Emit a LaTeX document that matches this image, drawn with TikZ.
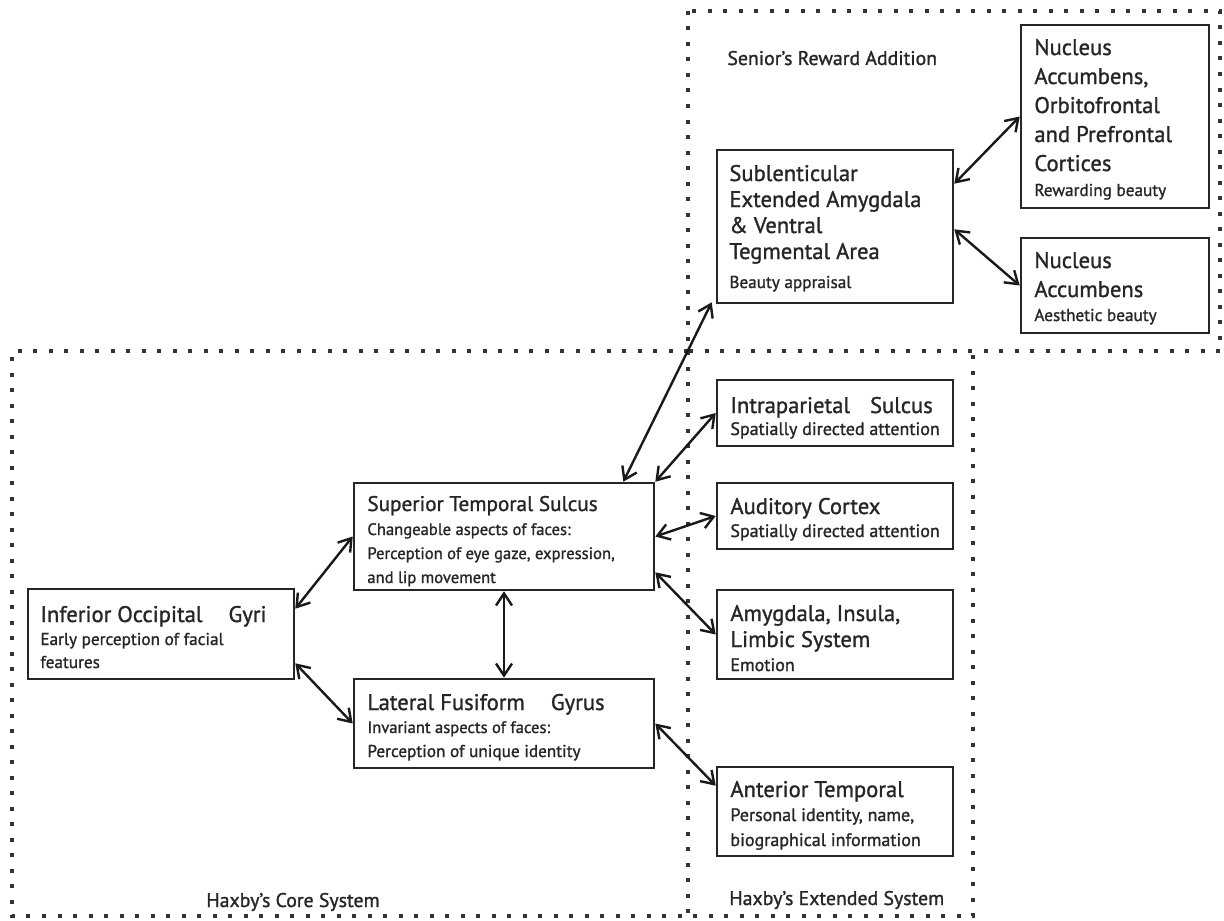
\documentclass[tikz,border=0pt]{standalone}
\usepackage{fontspec}
\setmainfont{PT Sans}[FakeBold=1.2]
\usetikzlibrary{arrows.meta,fit,calc}
\begin{document}
\begin{tikzpicture}[x=0.5pt,y=-0.5pt,
  box/.style={draw=black!85, line width=1.3pt, inner sep=0pt},
  ttltxt/.style={anchor=base west, inner sep=0pt, text=black!85, font=\fontsize{11.3}{13}\selectfont},
  subtxt/.style={anchor=base west, inner sep=0pt, text=black!85, font=\fontsize{8.6}{10}\selectfont},
  lbltxt/.style={anchor=base west, inner sep=0pt, text=black!85, font=\fontsize{9.9}{11}\selectfont},
  dotline/.style={line width=2pt, dash pattern=on 2pt off 5.75pt, black!80},
  link/.style={line width=1.2pt, black!90, {Straight Barb[length=6pt,width=8pt]}-{Straight Barb[length=6pt,width=8pt]}}
]
\useasboundingbox (0,0) rectangle (1224,920);

% dotted regions
\draw[dotline] (688,11) rectangle (1220,351);
\draw[dotline] (688,351) -- (12,351) -- (12,916) -- (973,916) -- (973,351);
\draw[dotline] (688,351) -- (688,916);

% region labels
\node[lbltxt] (lsen) at (727,65) {Senior’s Reward Addition};
\node[lbltxt] (lcore) at (206,907) {Haxby’s Core System};
\node[lbltxt] (lext) at (729,905) {Haxby’s Extended System};

% boxes
\node[box, fit={(28,589) (294,679)}] (iog) {};
\node[box, fit={(354,483) (654,590)}] (sts) {};
\node[box, fit={(354,679) (654,768)}] (lfg) {};
\node[box, fit={(717,380) (953,446)}] (ips) {};
\node[box, fit={(717,483) (953,549)}] (aud) {};
\node[box, fit={(717,590) (953,679)}] (amy) {};
\node[box, fit={(717,767) (953,856)}] (ant) {};
\node[box, fit={(717,150) (953,303)}] (sla) {};
\node[box, fit={(1021,25) (1209,208)}] (nof) {};
\node[box, fit={(1021,238) (1209,333)}] (nac) {};

% texts
\node[ttltxt] (iog1) at (40,622) {Inferior Occipital\hspace{10pt} Gyri};
\node[subtxt] (iog2) at (40,645) {Early perception of facial};
\node[subtxt] (iog3) at (40,668) {features};

\node[ttltxt, font=\fontsize{10.6}{13}\selectfont] (sts1) at (367,511) {Superior Temporal Sulcus};
\node[subtxt, font=\fontsize{8.3}{10}\selectfont] (sts2) at (367,535) {Changeable aspects of faces:};
\node[subtxt, font=\fontsize{8.3}{10}\selectfont] (sts3) at (367,559) {Perception of eye gaze, expression,};
\node[subtxt, font=\fontsize{8.3}{10}\selectfont] (sts4) at (367,583) {and lip movement};

\node[ttltxt] (lfg1) at (367,710) {Lateral Fusiform\hspace{10pt} Gyrus};
\node[subtxt, font=\fontsize{8.3}{10}\selectfont] (lfg2) at (367,733) {Invariant aspects of faces:};
\node[subtxt] (lfg3) at (367,757) {Perception of unique identity};

\node[ttltxt] (ips1) at (730,413) {Intraparietal\hspace{7pt} Sulcus};
\node[subtxt, font=\fontsize{9}{10}\selectfont] (ips2) at (730,435) {Spatially directed attention};

\node[ttltxt] (aud1) at (730,514) {Auditory Cortex};
\node[subtxt, font=\fontsize{9}{10}\selectfont] (aud2) at (730,537) {Spatially directed attention};

\node[ttltxt] (amy1) at (730,621) {Amygdala, Insula,};
\node[ttltxt] (amy2) at (730,647) {Limbic System};
\node[subtxt, font=\fontsize{9}{10}\selectfont] (amy3) at (730,671) {Emotion};

\node[ttltxt] (ant1) at (730,797) {Anterior Temporal};
\node[subtxt, font=\fontsize{9}{10}\selectfont] (ant2) at (730,821) {Personal identity, name,};
\node[subtxt, font=\fontsize{9}{10}\selectfont] (ant3) at (730,846) {biographical information};

\node[ttltxt] (sla1) at (729,181) {Sublenticular};
\node[ttltxt] (sla2) at (729,207) {Extended Amygdala};
\node[ttltxt] (sla3) at (729,233) {\& Ventral};
\node[ttltxt] (sla4) at (729,259) {Tegmental Area};
\node[subtxt] (sla5) at (729,288) {Beauty appraisal};

\node[ttltxt] (nof1) at (1034,55) {Nucleus};
\node[ttltxt] (nof2) at (1034,84) {Accumbens,};
\node[ttltxt] (nof3) at (1034,113) {Orbitofrontal};
\node[ttltxt] (nof4) at (1034,142) {and Prefrontal};
\node[ttltxt] (nof5) at (1034,171) {Cortices};
\node[subtxt] (nof6) at (1034,196) {Rewarding beauty};

\node[ttltxt] (nac1) at (1034,268) {Nucleus};
\node[ttltxt] (nac2) at (1034,297) {Accumbens};
\node[subtxt] (nac3) at (1034,321) {Aesthetic beauty};

% connectors
\draw[link] ($(iog.north east)+(0,21)$) -- (sts.west);
\draw[link] ($(iog.south east)+(0,-17)$) -- (lfg.west);
\draw[link] (sts.south) -- (lfg.north);
\draw[link] ($(sts.north east)+(-32,0)$) -- ($(sla.south west)+(-4,-2)$);
\draw[link] (sts.north east) -- (ips.west);
\draw[link] (sts.east) -- (aud.west);
\draw[link] ($(sts.south east)+(0,-19)$) -- (amy.west);
\draw[link] (lfg.east) -- ($(ant.north west)+(0,20)$);
\draw[link] ($(sla.north east)+(0,35)$) -- (nof.west);
\draw[link] ($(sla.south east)+(0,-75)$) -- (nac.west);
\end{tikzpicture}
\end{document}
